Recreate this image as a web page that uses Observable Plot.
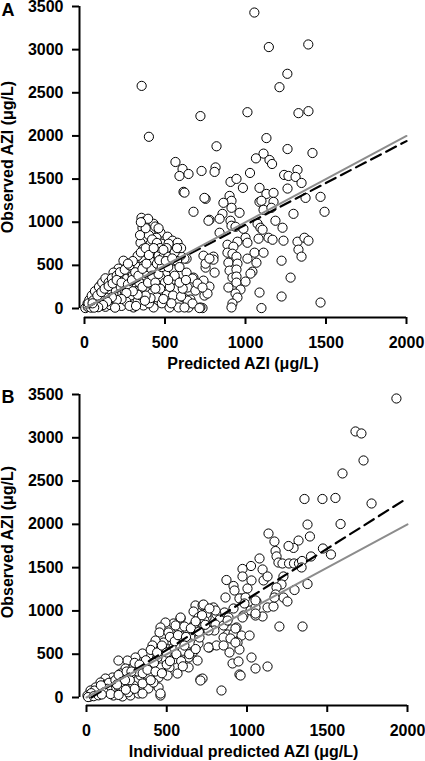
<!DOCTYPE html>
<html><head><meta charset="utf-8">
<script src="https://cdn.jsdelivr.net/npm/d3@7"></script>
<script src="https://cdn.jsdelivr.net/npm/@observablehq/plot@0.6"></script>
<style>body{margin:0;background:#fff;} svg{display:block;} .panel{position:relative;width:425px;} .panel svg.axes{position:absolute;left:0;top:0;pointer-events:none;}</style>
</head><body><div id="chart"></div>
<script>
const xTicks = [0, 500, 1000, 1500, 2000];
const yTicks = [0, 500, 1000, 1500, 2000, 2500, 3000, 3500];
const identityLine = [[0, 0], [2000, 2000]];
const regressionA = [[0, 0], [2000, 1940]];
const regressionB = [[30, 0], [2000, 2305]];
const labelA = "A";
const labelB = "B";
const xTitleA = "Predicted AZI (μg/L)";
const xTitleB = "Individual predicted AZI (μg/L)";
const yTitle = "Observed AZI (μg/L)";

// Panel A: [predicted, observed]
const pointsA = [
[1055,3430],[1145,3030],[1390,3060],[1260,2720],[1211,2565],[355,2580],[400,1990],[720,2230],[1012,2275],[1329,2264],[1391,2287],
[1130,1975],[820,1880],[1261,1848],[1416,1802],[1112,1795],[1065,1740],[1149,1721],[1165,1675],[814,1635],[808,1583],[1028,1571],[907,1467],[944,1502],[984,1398],[1087,1398],[1261,1390],[1240,1548],[1267,1536],[1323,1606],[1311,1525],[1348,1455],[727,1594],[565,1698],[609,1617],[590,1536],[646,1559],[615,1352],
[752,1271],[901,1305],[913,1248],[863,1225],[913,1167],[1130,1328],[1174,1340],[1087,1236],[1099,1248],[1174,1236],[1112,1144],[1161,1167],[1373,1282],[1466,1294],[1491,1121],[1298,1097],[963,1109],[857,1097],[839,1040],[776,1028],[907,1017],[913,959],[938,947],[987,924],[839,878],[1075,982],[1093,936],[1106,913],[1186,1017],[1230,936],[1000,820],[950,774],[888,739],[925,716],[1012,762],[1081,809],[1143,820],[1168,797],[1236,786],[1323,774],[1366,820],[1391,786],[1329,682],[1348,601],[888,647],[919,635],[944,601],[801,601],[801,566],[1056,647],[1112,647],[1012,578],[894,531],[950,520],[1068,531],[1224,554],[752,474],[808,416],[901,439],[944,451],[1043,427],[1280,358],[919,358],[944,370],[1031,404],[733,289],[776,254],[894,243],[944,300],[1000,312],[969,219],[938,173],[745,150],[950,127],[1087,185],[1224,139],[919,58],[913,12],[1099,5],[1466,69],[733,5],
[621,1343],[745,1282],[677,1121],[770,1017],[354,1051],[366,1005],[360,936],[398,982],[429,982],[366,866],[410,901],[472,878],[447,820],[516,832],[385,809],[348,762],[410,751],[478,751],[547,786],[578,762],[534,705],[366,693],[441,670],[540,647],[398,612],[460,612],[634,578],[366,554],[242,554],[429,531],[484,531],[534,520],[298,474],[211,462],[180,416],[267,404],[329,416],[391,439],[453,439],[503,404],[348,347],[410,323],[472,358],[565,335],[634,416],[677,358],[739,323],[640,243],[689,208],[764,173],[615,127],[658,104],[720,12],[646,12],[528,12],[584,12],[99,266],[143,208],[81,173],[56,116],[19,58],[5,5],[180,173],[224,208],[273,243],[391,208],[429,243],[491,243],[472,173],[391,127],[304,116],[242,69],[174,58],[99,69],[304,12],[366,35],[429,12],[460,92],[193,323],[236,358],[161,289],
[621,578],[671,347],[702,289],[733,243],[640,92],[671,58],[621,12],[714,5],[553,335],[534,554],[596,612],[522,751],[739,612],[752,520],[776,578],
[20,20],[35,40],[50,30],[60,80],[75,50],[85,120],[95,90],[110,140],[120,100],[130,60],[140,180],[150,130],[160,220],[170,90],[185,260],[195,200],[205,150],[215,300],[225,250],[235,180],[245,120],[255,300],[265,350],[275,200],[285,150],[290,420],[300,380],[310,280],[320,200],[330,480],[340,300],[350,420],[360,250],[370,500],[380,380],[395,300],[405,560],[415,460],[420,380],[440,300],[450,520],[460,400],[480,480],[490,600],[500,300],[510,700],[520,600],[550,450],[560,650],[575,550],[590,480],[600,700],[30,100],[45,150],[65,200],[90,250],[110,300],[130,350],[150,300],[170,350],[200,380],[220,420],[250,450],[280,500],[40,10],[70,20],[100,30],[130,20],[160,40],[200,50],[230,30],[260,80],[280,30],[330,80],[350,150],[400,60],[420,180],[450,130],[480,60],[510,160],[530,250],[550,150],[330,610],[300,550],[270,520],[350,650],[380,700],[345,850],[400,850],[420,800],[450,760],[470,700],[380,930],[440,950],[460,930],[490,680],[520,480],[395,1040],[350,1000],
[25,60],[55,95],[80,150],[105,190],[125,230],[150,260],[175,290],[200,330],[230,300],[250,200],[270,280],[295,330],[315,420],[335,380],[360,460],[385,520],[400,620],[430,700],[465,560],[505,550],[545,580],[575,700],[560,380],[520,330],[470,230],[440,230],[410,120],[380,150],[330,160],[300,200],[260,180],[230,110],[200,100],[170,130],[140,80],[115,40],[85,15],[60,10],[50,60],[190,10],[320,30],[375,90],[490,110],[540,60],[600,140],[610,230],[590,300],[630,330]
];

// Panel B: [individual predicted, observed]
const pointsB = [
[1931,3454],[1676,3073],[1713,3050],[1726,2738],[1595,2588],[1358,2293],[1470,2293],[1551,2305],[1776,2241],[1583,2004],[1377,1998],[1134,1894],[1171,1802],[1392,1860],[1321,1813],[1290,1728],[1259,1750],[1178,1692],[1184,1630],[1196,1559],[1221,1548],[1262,1548],[1293,1548],[1324,1548],[1343,1577],[1399,1629],[1473,1721],[1523,1652],[1078,1606],[1025,1519],[972,1485],[1097,1479],[1340,1502],[1377,1311],[1296,1242],[972,1398],[1028,1352],[1103,1352],[1128,1398],[872,1357],[916,1288],[922,1236],[1003,1259],[1227,1398],[1215,1306],[1184,1271],[1178,1190],[1227,1155],[1252,1109],[966,1144],[866,1155],[953,1144],[1059,1109],[729,1063],[791,1040],[860,982],[916,1028],[1022,1005],[1053,1040],[1128,1040],[1165,1051],[1097,936],[1053,947],[978,947],[810,959],[748,924],[829,901],[885,924],[935,809],[897,786],[729,832],[804,843],[854,832],[879,728],[916,739],[966,716],[1016,716],[754,786],[854,693],[897,682],[941,635],[766,578],[810,601],[854,601],[891,520],[953,554],[910,393],[947,416],[1028,462],[1053,335],[1128,358],[953,266],[710,208],[841,81],[1202,820],[1346,820],[1171,1155],[991,1155],[984,1086],[972,924],[804,1005],[797,774],[879,889],[928,797],[928,635],[1053,970],[1053,1121],[960,254],
[679,1063],[723,1063],[667,993],[698,924],[748,970],[735,889],[760,774],[586,913],[542,855],[492,866],[461,809],[455,751],[511,751],[573,797],[629,774],[648,693],[623,635],[523,658],[480,635],[430,658],[411,601],[473,566],[542,578],[586,578],[648,624],[698,624],[760,578],[667,531],[636,462],[586,485],[542,439],[492,451],[442,462],[386,485],[349,508],[305,462],[255,427],[199,427],[243,335],[293,347],[355,370],[411,347],[461,347],[517,347],[567,277],[505,254],[449,231],[386,254],[336,254],[274,254],[212,277],[162,231],[118,219],[87,173],[56,116],[25,81],[6,23],[168,23],[224,12],[274,23],[324,46],[386,104],[449,116],[461,23],[417,173],[349,162],[293,139],[230,104],[162,104],[106,58],[723,219],[692,427],[636,347],[704,693],[667,832],[729,1074],[766,1028],[586,924],[555,832],[710,196],[349,46],[461,46],
[20,10],[40,30],[60,50],[80,90],[100,120],[120,150],[140,170],[150,80],[180,200],[200,260],[220,180],[250,300],[270,200],[300,400],[320,300],[350,280],[370,430],[400,550],[420,400],[440,520],[470,600],[500,520],[520,700],[550,650],[570,720],[600,540],[610,820],[620,700],[650,800],[680,880],[700,760],[720,950],[740,840],[500,380],[560,500],[610,600],[400,200],[330,380],[280,300],[240,200],[190,150],[130,100],[70,40],[50,80],[30,50],[90,140],[110,60],[150,40],[260,60],[300,100],[380,320],[430,300],[470,280],[520,420],[590,420],[640,500],[680,560],[10,5],[45,15],[75,25],[95,35],[200,30],[245,90],[600,360]
];

const FONT = "Liberation Sans, Arial, Helvetica, sans-serif";

function panel({points, reg, letter, xTitle, height, marginTop, marginBottom, marginRight, gapLeft, gapBottom, letterDy, yTitleDy}) {
  const marginLeft = 79;
  const wrap = document.createElement("div");
  wrap.className = "panel";
  wrap.style.height = height + "px";
  // data layer
  const dataSvg = Plot.plot({
    width: 425, height, marginTop, marginBottom, marginLeft, marginRight,
    style: {fontFamily: FONT, background: "white", overflow: "visible", color: "black"},
    x: {domain: [0, 2000], insetLeft: gapLeft, axis: null},
    y: {domain: [0, 3500], insetBottom: gapBottom, axis: null},
    marks: [
      Plot.dot(points, {x: d => d[0], y: d => d[1], r: 4.6, stroke: "black", fill: "white", strokeWidth: 1}),
      Plot.line(reg, {x: d => d[0], y: d => d[1], stroke: "black", strokeWidth: 2.2, strokeDasharray: "11,6"}),
      Plot.line(identityLine, {x: d => d[0], y: d => d[1], stroke: "#8c8c8c", strokeWidth: 2}),
      Plot.text([xTitle], {frameAnchor: "bottom", dy: 46, lineAnchor: "middle", fontSize: 16, fontWeight: "bold", fill: "black"}),
      Plot.text([yTitle], {frameAnchor: "left", dx: -(marginLeft - 7.4), dy: yTitleDy, rotate: -90, lineAnchor: "middle", textAnchor: "middle", fontSize: 16, fontWeight: "bold", fill: "black"}),
      Plot.text([letter], {frameAnchor: "top-left", dx: -marginLeft + 1, dy: letterDy, textAnchor: "start", lineAnchor: "bottom", fontSize: 18, fontWeight: "bold", fill: "black"})
    ]
  });
  // axes layer (same scales)
  const axesSvg = Plot.plot({
    width: 425, height, marginTop, marginBottom, marginLeft, marginRight,
    style: {fontFamily: FONT, background: "transparent", overflow: "visible", color: "black"},
    x: {domain: [0, 2000], insetLeft: gapLeft},
    y: {domain: [0, 3500], insetBottom: gapBottom},
    marks: [
      Plot.ruleX([0], {y1: 0, y2: 3500, dx: -gapLeft, stroke: "black", strokeWidth: 2}),
      Plot.ruleY([0], {x1: 0, x2: 2000, dy: gapBottom, stroke: "black", strokeWidth: 2}),
      Plot.axisY({ticks: yTicks, tickFormat: d => String(d), tickSize: 7, tickPadding: 9, strokeWidth: 2, fontSize: 16, fontWeight: "bold", label: null}),
      Plot.axisX({ticks: xTicks, tickFormat: d => String(d), tickSize: 7, tickPadding: 12, strokeWidth: 2, fontSize: 16, fontWeight: "bold", label: null})
    ]
  });
  axesSvg.classList.add("axes");
  wrap.append(dataSvg, axesSvg);
  return wrap;
}

const chart = document.getElementById("chart");
chart.append(
  panel({points: pointsA, reg: regressionA, letter: labelA, xTitle: xTitleA, height: 380, marginTop: 6, marginBottom: 63, marginRight: 19, gapLeft: 5, gapBottom: 9, letterDy: 9, yTitleDy: -5}),
  panel({points: pointsB, reg: regressionB, letter: labelB, xTitle: xTitleB, height: 381, marginTop: 14, marginBottom: 56, marginRight: 18, gapLeft: 7, gapBottom: 8, letterDy: 8, yTitleDy: -8})
);
</script>
</body></html>
